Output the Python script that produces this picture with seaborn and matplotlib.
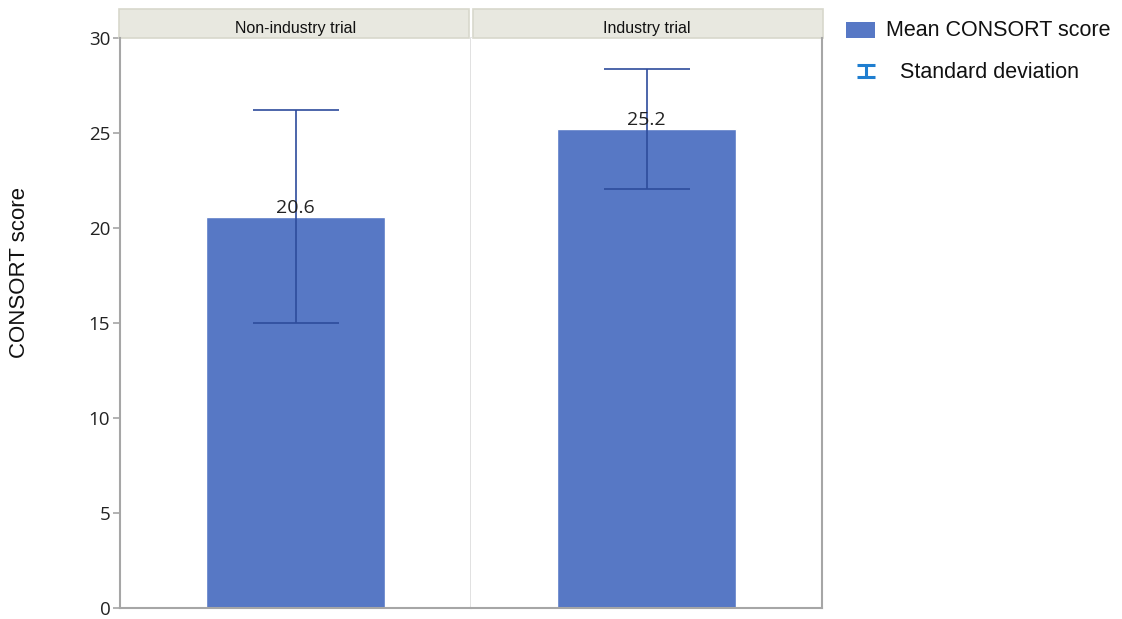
import matplotlib
matplotlib.use("Agg")
import matplotlib.pyplot as plt
from matplotlib.patches import Rectangle
from matplotlib.path import Path
from matplotlib.lines import Line2D
import seaborn as sns
import pandas as pd

# Mean CONSORT score and its standard deviation per trial type
groups = ["Non-industry trial", "Industry trial"]
means = [20.6, 25.2]
sds = [5.6, 3.15]
yticks = [0, 5, 10, 15, 20, 25, 30]

bar_color = "#5778c5"
err_color = "#2e4c9c"
legend_err_color = "#1f7ed0"
spine_color = "#a6a6a6"
sep_color = "#dcdcdc"
strip_fill = "#e8e8e0"
strip_edge = "#d8d8cc"
num_font = ["Open Sans", "DejaVu Sans"]

sns.set_theme(style="white")
plt.rcParams["font.family"] = ["Liberation Sans", "DejaVu Sans"]

df = pd.DataFrame({"group": groups, "mean": means, "sd": sds})

W, H = 1122, 619
fig = plt.figure(figsize=(W / 100, H / 100), dpi=100)
gs = fig.add_gridspec(1, 2, left=120 / W, right=822 / W,
                      bottom=1 - 608 / H, top=1 - 38 / H, wspace=0)
axes = [fig.add_subplot(gs[0, i]) for i in range(2)]
axes[1].sharey(axes[0])

for i, (ax, row) in enumerate(zip(axes, df.itertuples())):
    sub = df[df["group"] == row.group]
    sns.barplot(data=sub, x="group", y="mean", ax=ax, color=bar_color,
                width=0.51, errorbar=None, saturation=1)
    ax.errorbar(0, row.mean, yerr=row.sd, color=err_color, lw=1.2,
                capsize=31, capthick=1.2, fmt="none", zorder=3)
    ax.text(0, row.mean, f"{row.mean:.1f}", ha="center", va="bottom",
            fontsize=14, family=num_font, color="#222222", zorder=4)
    ax.set_xlim(-0.5, 0.5)
    ax.set_ylim(0, 30)
    ax.set_xlabel("")
    ax.set_ylabel("")
    ax.set_xticks([])
    ax.spines["top"].set_visible(False)
    for s in ["left", "right", "bottom"]:
        ax.spines[s].set_color(spine_color)
        ax.spines[s].set_linewidth(1.5)

    # facet header strip
    ax.add_patch(Rectangle((-0.003 if i == 0 else 0.005, 1.0), 0.998, 29 / 570,
                           transform=ax.transAxes, clip_on=False,
                           facecolor=strip_fill, edgecolor=strip_edge, lw=1.2))
    ax.text(0.5, 1 + 10 / 570, row.group, transform=ax.transAxes,
            ha="center", va="center", fontsize=11.5, color="#111111")

axes[0].spines["right"].set_color(sep_color)
axes[0].spines["right"].set_linewidth(1.2)
axes[1].spines["left"].set_visible(False)

axes[0].set_yticks(yticks)
axes[0].set_yticklabels([str(t) for t in yticks], family=num_font,
                        fontsize=13.5, color="#222222")
axes[0].tick_params(axis="y", left=True, length=5, width=1.2,
                    color=spine_color, pad=2)
axes[1].tick_params(axis="y", left=False, labelleft=False)

fig.text(20 / W, 1 - 272 / H, "CONSORT score", rotation=90, ha="center",
         va="center", fontsize=16, color="#111111")

# legend
fig.patches.append(Rectangle((846 / W, 1 - 38 / H), 29 / W, 16 / H,
                             transform=fig.transFigure, facecolor=bar_color,
                             edgecolor="none"))
fig.text(886 / W, 1 - 30 / H, "Mean CONSORT score", ha="left", va="center",
         fontsize=15.5, color="#111111")
ibeam = Path([(-1, 0.68), (1, 0.68), (0, 0.68), (0, -0.68), (-1, -0.68),
              (1, -0.68)],
             [Path.MOVETO, Path.LINETO, Path.MOVETO, Path.LINETO,
              Path.MOVETO, Path.LINETO])
fig.add_artist(Line2D([866 / W], [1 - 71 / H], transform=fig.transFigure,
                      marker=ibeam, markersize=13.5, markeredgewidth=2.2,
                      markeredgecolor=legend_err_color,
                      markerfacecolor="none", linestyle="none"))
fig.text(900 / W, 1 - 72 / H, "Standard deviation", ha="left", va="center",
         fontsize=15.5, color="#111111")

fig.savefig("out.png", dpi=100, facecolor="white")
